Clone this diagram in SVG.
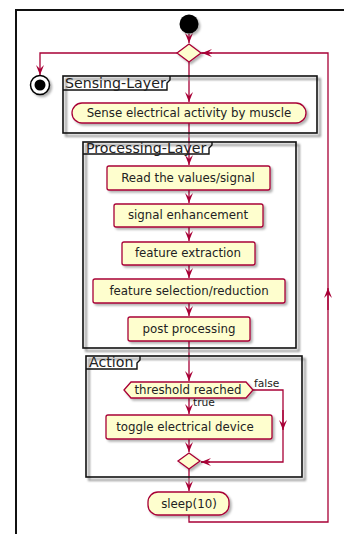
<svg xmlns="http://www.w3.org/2000/svg" width="344" height="534" viewBox="0 0 344 534">
<style>
.act{fill:#FEFECE;stroke:#A80036;stroke-width:1.3;filter:url(#sh)}
.frame{fill:none;stroke:#111;stroke-width:1.6}
.fsh{fill:none;stroke:#999;stroke-width:2;filter:url(#bl)}
.tab{fill:none;stroke:#111;stroke-width:1.4}
.ttl{font-family:"DejaVu Sans",sans-serif;font-size:14.2px;fill:#222}
.t{font-family:"DejaVu Sans",sans-serif;font-size:11.8px;fill:#222;text-anchor:middle}
.lbl{font-family:"DejaVu Sans",sans-serif;font-size:10.7px;fill:#222}
.c{fill:none;stroke:#A80036;stroke-width:1.3}
.ca{fill:none;stroke:#A80036;stroke-width:1.3;marker-end:url(#ah)}
</style>
<defs>
<filter id="sh" x="-10%" y="-20%" width="130%" height="160%"><feDropShadow dx="2" dy="2" stdDeviation="1.2" flood-color="#000" flood-opacity="0.3"/></filter>
<filter id="bl"><feGaussianBlur stdDeviation="0.8"/></filter>
<marker id="ah" viewBox="0 0 10 10" refX="10" refY="5" markerWidth="10" markerHeight="10" markerUnits="userSpaceOnUse" orient="auto">
<path d="M0,1 L10,5 L0,9 L4,5 z" fill="#A80036"/>
</marker>
</defs>
<rect width="344" height="534" fill="#fff"/>
<path d="M16,534 V10 H344" fill="none" stroke="#111" stroke-width="2"/>

<g id="connectors">
<path class="ca" d="M189,34 V43"/>
<path class="ca" d="M189,62 V102"/>
<path class="ca" d="M177,53 H40 V75"/>
<path class="ca" d="M189,123 V165"/>
<path class="ca" d="M189,190 V203"/>
<path class="ca" d="M189,227 V241"/>
<path class="ca" d="M189,265 V278"/>
<path class="ca" d="M189,303 V316"/>
<path class="ca" d="M189,341 V381"/>
<path class="ca" d="M189,398 V414"/>
<path class="c" d="M253,390 H283 V462 H201"/>
<path class="ca" d="M283,410 V430"/>
<path class="ca" d="M210,462 H201"/>
<path class="ca" d="M189,439 V452"/>
<path class="ca" d="M189,469 V491"/>
<path class="c" d="M189,515 V522 H328 V53 H201"/>
<path class="ca" d="M328,310 V288"/>
<path class="ca" d="M212,53 H202"/>
<text class="lbl" x="254" y="387">false</text>
<text class="lbl" x="193" y="406">true</text>
</g>

<g id="start"><circle cx="189" cy="24" r="9.5" fill="#000" filter="url(#sh)"/></g>
<g id="loop-diamond"><path d="M189,44 L201,53 L189,62 L177,53 Z" class="act"/></g>
<g id="stop"><circle cx="40" cy="85" r="9.5" fill="#fff" stroke="#000" stroke-width="1.5" filter="url(#sh)"/><circle cx="40" cy="85" r="5.5" fill="#000"/></g>

<g id="sensing-layer">
<rect class="fsh" x="66" y="79" width="254" height="57"/>
<rect class="frame" x="63" y="76" width="254" height="57" fill="#fff"/>
<path class="tab" d="M63,90 H167 V83 L170,80 V76"/>
<text class="ttl" x="65" y="88">Sensing-Layer</text>
</g>
<g id="sense"><rect class="act" x="72" y="103" width="234" height="20" rx="10"/><text class="t" x="189" y="117">Sense electrical activity by muscle</text></g>

<g id="processing-layer">
<rect class="fsh" x="86" y="145" width="213" height="206"/>
<rect class="frame" x="83" y="142" width="213" height="206"/>
<path class="tab" d="M83,154 H209 V148 L212,145 V142"/>
<text class="ttl" x="86" y="153">Processing-Layer</text>
</g>
<g id="read"><rect class="act" x="107" y="166" width="163" height="24" rx="2"/><text class="t" x="188" y="182">Read the values/signal</text></g>
<g id="enh"><rect class="act" x="114" y="204" width="149" height="23" rx="2"/><text class="t" x="188" y="219">signal enhancement</text></g>
<g id="extract"><rect class="act" x="122" y="242" width="133" height="23" rx="2"/><text class="t" x="188" y="257">feature extraction</text></g>
<g id="select"><rect class="act" x="93" y="279" width="192" height="24" rx="2"/><text class="t" x="189" y="295">feature selection/reduction</text></g>
<g id="post"><rect class="act" x="128" y="317" width="122" height="24" rx="2"/><text class="t" x="189" y="333">post processing</text></g>

<g id="action">
<rect class="fsh" x="89" y="359" width="216" height="121"/>
<rect class="frame" x="86" y="356" width="216" height="121"/>
<path class="tab" d="M86,369 H137 V363 L140,360 V356"/>
<text class="ttl" x="89" y="367">Action</text>
</g>
<g id="threshold"><path class="act" d="M124,390 L131,382 H246 L253,390 L246,398 H131 Z"/><text class="t" x="188" y="394">threshold reached</text></g>
<g id="toggle"><rect class="act" x="106" y="415" width="166" height="24" rx="2"/><text class="t" x="185" y="431">toggle electrical device</text></g>
<g id="merge"><path d="M189,453 L200,461 L189,469 L178,461 Z" class="act"/></g>
<g id="sleep"><rect class="act" x="148" y="492" width="81" height="23" rx="10"/><text class="t" x="189" y="508">sleep(10)</text></g>
</svg>
